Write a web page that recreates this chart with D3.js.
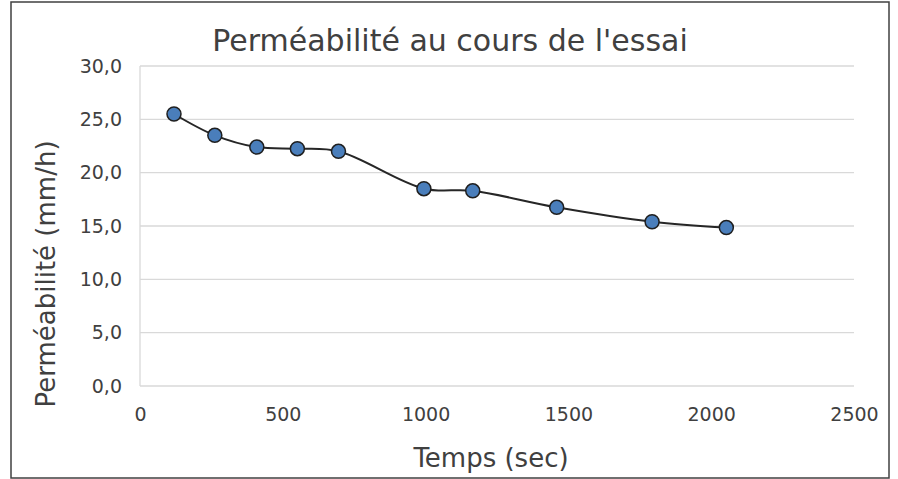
<!DOCTYPE html>
<html>
<head>
<meta charset="utf-8">
<script src="https://cdn.jsdelivr.net/npm/d3@7/dist/d3.min.js"></script>
<style>
body { margin: 0; background: #fff; }
svg text { font-family: "Century Gothic", "DejaVu Sans", sans-serif; fill: #404040; }
</style>
</head>
<body>
<svg id="chart" width="898" height="479"></svg>
<script>
// temps (sec) et perméabilité (mm/h)
var temps = [119, 262, 409, 551, 695, 994, 1165, 1459, 1793, 2053];
var permeabilite = [25.5, 23.5, 22.4, 22.25, 22.0, 18.5, 18.3, 16.75, 15.4, 14.85];
var xTicks = [0, 500, 1000, 1500, 2000, 2500];
var yTicks = [0, 5, 10, 15, 20, 25, 30];

var svg = d3.select("#chart");
var margin = {top: 66, left: 140, right: 44, bottom: 93};
var width = 898, height = 479;

var data = temps.map((t, i) => ({t: t, p: permeabilite[i]}));

var x = d3.scaleLinear().domain([0, 2500]).range([margin.left, width - margin.right]);
var y = d3.scaleLinear().domain([0, 30]).range([height - margin.bottom, margin.top]);

// cadre
svg.append("rect").attr("x", 11).attr("y", 2).attr("width", 878).attr("height", 476)
    .attr("fill", "#fff").attr("stroke", "#404040").attr("stroke-width", 1.5);

// grille
svg.append("g").selectAll("line").data(yTicks).enter().append("line")
    .attr("x1", x(0)).attr("x2", x(2500))
    .attr("y1", d => y(d)).attr("y2", d => y(d))
    .attr("stroke", "#d9d9d9").attr("stroke-width", 1.3);
svg.append("line").attr("x1", x(0)).attr("x2", x(0)).attr("y1", y(0)).attr("y2", y(30))
    .attr("stroke", "#d9d9d9").attr("stroke-width", 1.3);

var fmt = d => d.toFixed(1).replace(".", ",");

var yAxis = svg.append("g").attr("transform", `translate(${x(0)},0)`)
    .call(d3.axisLeft(y).tickValues(yTicks).tickFormat(fmt).tickSize(0).tickPadding(18));
var xAxis = svg.append("g").attr("transform", `translate(0,${y(0)})`)
    .call(d3.axisBottom(x).tickValues(xTicks).tickFormat(d3.format("d")).tickSize(0).tickPadding(22));
svg.selectAll(".domain").remove();
svg.selectAll(".tick text").style("font-size", "19px").attr("fill", "#404040");

// courbe lissée
var line = d3.line().x(d => x(d.t)).y(d => y(d.p)).curve(d3.curveCatmullRom.alpha(0.5));
svg.append("path").datum(data).attr("d", line)
    .attr("fill", "none").attr("stroke", "#262626").attr("stroke-width", 2);

svg.append("g").selectAll("circle").data(data).enter().append("circle")
    .attr("cx", d => x(d.t)).attr("cy", d => y(d.p)).attr("r", 7)
    .attr("fill", "#4a7ebb").attr("stroke", "#1f1f1f").attr("stroke-width", 1.5);

// titres
svg.append("text").attr("x", 450).attr("y", 51).attr("text-anchor", "middle")
    .style("font-size", "30px").text("Perméabilité au cours de l'essai");
svg.append("text").attr("x", 491).attr("y", 467).attr("text-anchor", "middle")
    .style("font-size", "26px").text("Temps (sec)");
svg.append("text").attr("transform", "translate(55,274) rotate(-90)").attr("text-anchor", "middle")
    .style("font-size", "26px").text("Perméabilité (mm/h)");
</script>
</body>
</html>
